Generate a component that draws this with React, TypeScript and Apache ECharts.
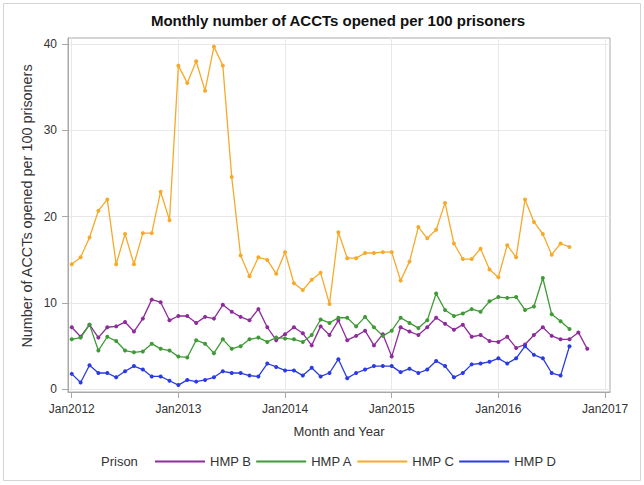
import React, { useEffect, useRef } from "react";
import * as echarts from "echarts";

// Monthly series, starting January 2012 (x = months since Jan 2012)
const START_YEAR = 2012;

const hmpB = [
  7.2, 6.1, 7.5, 6.0, 7.2, 7.3, 7.8, 6.7, 8.2, 10.4, 10.1, 8.0,
  8.5, 8.5, 7.7, 8.4, 8.2, 9.8, 9.0, 8.4, 8.0, 9.3, 7.2, 5.7,
  6.4, 7.2, 6.5, 5.1, 7.3, 6.3, 8.0, 5.7, 6.2, 6.8, 5.1, 6.4,
  3.8, 7.2, 6.7, 6.3, 7.2, 8.3, 7.6, 6.9, 7.5, 6.1, 6.3, 5.6,
  5.5, 6.1, 4.8, 5.2, 6.3, 7.2, 6.2, 5.8, 5.8, 6.6, 4.7,
];

const hmpA = [
  5.8, 6.0, 7.5, 4.5, 6.1, 5.6, 4.5, 4.3, 4.4, 5.3, 4.7, 4.5,
  3.8, 3.7, 5.7, 5.3, 4.2, 5.8, 4.7, 5.0, 5.8, 6.0, 5.5, 6.0,
  5.9, 5.8, 5.5, 6.3, 8.1, 7.7, 8.3, 8.3, 7.3, 8.4, 7.2, 6.2,
  6.8, 8.3, 7.7, 7.1, 8.0, 11.1, 9.2, 8.5, 8.8, 9.3, 9.0, 10.2,
  10.7, 10.6, 10.7, 9.2, 9.6, 12.9, 8.7, 7.9, 7.0,
];

const hmpC = [
  14.5, 15.3, 17.6, 20.7, 22.0, 14.5, 18.0, 14.5, 18.1, 18.1, 22.9, 19.6,
  37.5, 35.5, 38.0, 34.6, 39.7, 37.5, 24.6, 15.5, 13.1, 15.3, 15.0, 13.4,
  15.9, 12.3, 11.5, 12.7, 13.5, 9.9, 18.2, 15.2, 15.2, 15.8, 15.8, 15.9,
  15.9, 12.6, 14.8, 18.8, 17.5, 18.5, 21.6, 16.9, 15.1, 15.1, 16.3, 13.9,
  13.0, 16.7, 15.3, 22.0, 19.4, 18.0, 15.6, 16.9, 16.5,
];

const hmpD = [
  1.8, 0.8, 2.8, 1.9, 1.9, 1.4, 2.1, 2.7, 2.3, 1.5, 1.5, 1.0,
  0.5, 1.1, 0.9, 1.1, 1.4, 2.1, 1.9, 1.9, 1.6, 1.5, 3.0, 2.6,
  2.2, 2.2, 1.6, 2.5, 1.5, 1.9, 3.5, 1.3, 1.9, 2.3, 2.7, 2.7,
  2.7, 2.0, 2.4, 1.9, 2.3, 3.3, 2.7, 1.4, 1.9, 2.9, 3.0, 3.2,
  3.6, 3.0, 3.6, 5.0, 4.0, 3.6, 1.9, 1.6, 5.0,
];

const seriesNames = ["HMP B", "HMP A", "HMP C", "HMP D"];
const seriesColors = ["#8E2C9C", "#3E9B35", "#F6AA2A", "#2A3BE4"];
const yearTicks = [2012, 2013, 2014, 2015, 2016, 2017];
const yTicks = [0, 10, 20, 30, 40];

const FONT = "'Liberation Sans', Arial, sans-serif";

const toPoints = (vals: number[]) => vals.map((v, i) => [i, v]);

export default function App() {
  const ref = useRef<HTMLDivElement>(null);

  useEffect(() => {
    if (!ref.current) return;
    const chart = echarts.init(ref.current, undefined, { renderer: "svg" });
    const xTickValues = yearTicks.map((y) => (y - START_YEAR) * 12);
    const allData = [hmpB, hmpA, hmpC, hmpD];

    chart.setOption({
      animation: false,
      textStyle: { fontFamily: FONT },
      grid: {
        left: 68,
        top: 38,
        right: 34,
        bottom: 93,
        show: true,
        borderColor: "#a8a8a8",
        borderWidth: 1,
        backgroundColor: "#ffffff",
      },
      legend: {
        left: 155,
        top: 455,
        padding: 0,
        icon: "rect",
        itemWidth: 50,
        itemHeight: 2,
        itemGap: 5,
        data: seriesNames,
        textStyle: { fontSize: 13, color: "#333", fontFamily: FONT },
      },
      xAxis: {
        type: "value",
        min: -0.42,
        max: 60.56,
        name: "Month and Year",
        nameLocation: "middle",
        nameGap: 33,
        nameTextStyle: { fontSize: 13, color: "#333", fontFamily: FONT },
        axisLine: { show: true, onZero: false, lineStyle: { color: "#a8a8a8" } },
        axisTick: { show: true, length: 6, customValues: xTickValues, lineStyle: { color: "#a8a8a8" } },
        axisLabel: {
          customValues: xTickValues,
          margin: 11,
          fontSize: 12,
          color: "#333",
          fontFamily: FONT,
          formatter: (v: number) => "Jan" + (START_YEAR + Math.round(v / 12)),
        },
        splitLine: { show: true, lineStyle: { color: "#e8e8e8" } },
      },
      yAxis: {
        type: "value",
        min: -0.3,
        max: 40.7,
        axisLine: { show: true, onZero: false, lineStyle: { color: "#a8a8a8" } },
        axisTick: { show: true, length: 6, customValues: yTicks, lineStyle: { color: "#a8a8a8" } },
        axisLabel: { customValues: yTicks, margin: 11, fontSize: 12, color: "#333", fontFamily: FONT },
        splitLine: { show: true, lineStyle: { color: "#e8e8e8" } },
      },
      graphic: [
        {
          type: "rect",
          silent: true,
          shape: { x: 3.5, y: 3.5, width: 637, height: 477 },
          style: { fill: "none", stroke: "#d4d4d4", lineWidth: 1 },
        },
        {
          type: "text",
          x: 338,
          y: 20,
          style: {
            text: "Monthly number of ACCTs opened per 100 prisoners",
            font: "bold 15px " + FONT,
            fill: "#111",
            textAlign: "center",
            textVerticalAlign: "middle",
          },
        },
        {
          type: "text",
          x: 27,
          y: 206,
          rotation: Math.PI / 2,
          style: {
            text: "Number of ACCTs opened per 100 prisoners",
            font: "14.4px " + FONT,
            fill: "#333",
            textAlign: "center",
            textVerticalAlign: "middle",
          },
        },
        {
          type: "text",
          x: 101,
          y: 461,
          style: {
            text: "Prison",
            font: "13px " + FONT,
            fill: "#333",
            textAlign: "left",
            textVerticalAlign: "middle",
          },
        },
      ],
      series: seriesNames.map((name, k) => ({
        name,
        type: "line",
        data: toPoints(allData[k]),
        symbol: "circle",
        symbolSize: 4,
        showSymbol: true,
        lineStyle: { width: 1.3, color: seriesColors[k] },
        itemStyle: { color: seriesColors[k] },
        emphasis: { disabled: true },
      })),
    });

    return () => chart.dispose();
  }, []);

  return (
    <div
      ref={ref}
      style={{ position: "absolute", left: 0, top: 0, width: 644, height: 485, background: "#fff" }}
    />
  );
}
